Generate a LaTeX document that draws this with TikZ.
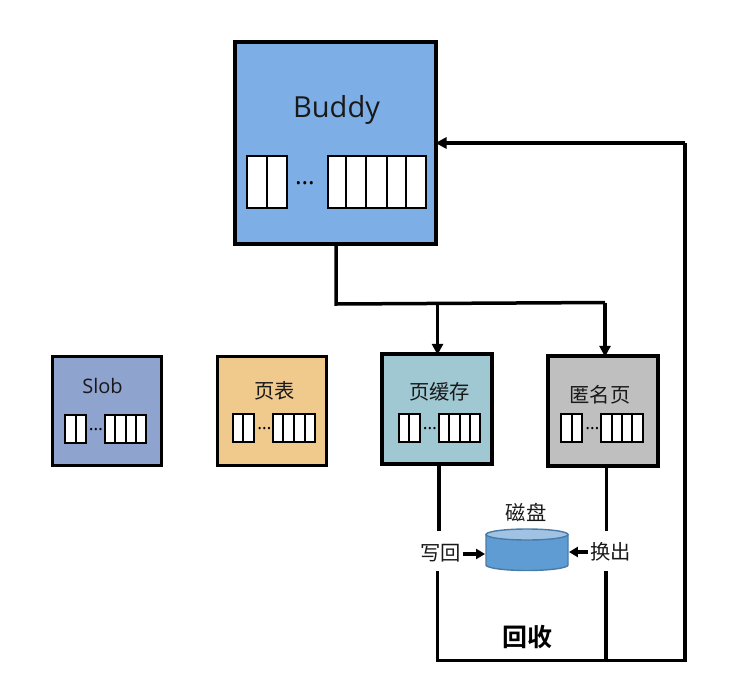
\documentclass[tikz,border=0pt]{standalone}
\usepackage{fontspec}
\setmainfont{Open Sans}
\newfontfamily\cjk{Noto Sans CJK SC}
\newfontfamily\cjkb{Noto Sans CJK SC Bold}
\usetikzlibrary{arrows.meta}
\definecolor{cBuddy}{HTML}{7DAFE6}
\definecolor{cSlob}{HTML}{8FA3CF}
\definecolor{cPT}{HTML}{F0C98D}
\definecolor{cPC}{HTML}{9FC8D2}
\definecolor{cAnon}{HTML}{BFBFBF}
\definecolor{cDisk}{HTML}{5F9CD3}
\definecolor{cDiskTop}{HTML}{A0C3E4}
\definecolor{cDiskLine}{HTML}{4A7BA6}
\tikzset{
  x=1pt,y=-1pt,
  bigbox/.style={draw=black,line width=4pt},
  smallbox/.style={draw=black,line width=2.6pt},
  cell/.style={draw=black,fill=white,line width=1.9pt},
  bigcell/.style={draw=black,fill=white,line width=2pt},
  conn/.style={draw=black,line width=3.5pt},
  tip/.style={conn,-{Triangle[length=11pt,width=11pt]},shorten >=-0.5pt},
  lab/.style={inner sep=0pt,text=black!90,font=\fontsize{20}{24}\selectfont},
  cjklab/.style={inner sep=0pt,text=black!90,font=\cjk\fontsize{20.3}{24}\selectfont},
  anchorbox/.style={inner sep=0pt,minimum width=0pt,minimum height=0pt}
}
\newcommand{\cellrow}[9]{% y1 y2 left-x1 left-div left-x2 right-x1 right-x2 dividers dotsx
  \path[cell] (#3,#1) rectangle (#5,#2);
  \draw[cell] (#4,#1) -- (#4,#2);
  \path[cell] (#6,#1) rectangle (#7,#2);
  \foreach \d in {#8} \draw[cell] (\d,#1) -- (\d,#2);
  \node[inner sep=0pt,anchor=base,font=\fontsize{18}{20}\selectfont] at (#9,{(#1+#2)/2+1}) {…};}
\begin{document}
\begin{tikzpicture}
\useasboundingbox (0,0) rectangle (740,697);
% Buddy
\node[bigbox,fill=cBuddy,anchor=north west,minimum width=201pt,minimum height=202pt,inner sep=0pt,outer sep=0pt] (buddy) at (235,42) {};
\node[inner sep=0pt,font=\fontsize{29}{34}\selectfont,text=black!90] (buddyl) at (336.5,110) {Buddy};
\path[bigcell] (246.5,156) rectangle (287,208);
\draw[bigcell] (267,156) -- (267,208);
\path[bigcell] (327.5,156) rectangle (426,208);
\foreach \d in {346,366,387,406} \draw[bigcell] (\d,156) -- (\d,208);
\node[inner sep=0pt,anchor=base,font=\fontsize{25}{26}\selectfont] (buddyd) at (305,184) {…};
% small boxes
\node[smallbox,fill=cSlob,anchor=north west,minimum width=109pt,minimum height=109pt,inner sep=0pt,outer sep=0pt] (slob) at (52.5,356.5) {};
\node[lab,font=\fontsize{20}{24}\selectfont] (slobl) at (102.5,386) {Slob};
\cellrow{415}{443}{65}{76}{86}{105}{146}{115.3,125.7,136}{96}
\node[smallbox,fill=cPT,anchor=north west,minimum width=109pt,minimum height=109pt,inner sep=0pt,outer sep=0pt] (pt) at (217.5,356.5) {};
\node[cjklab] (ptl) at (274.5,391) {页表};
\cellrow{414}{442}{233}{243.3}{254}{273}{315}{283.3,294,305}{264.5}
\node[bigbox,fill=cPC,anchor=north west,minimum width=110pt,minimum height=109.5pt,inner sep=0pt,outer sep=0pt] (pc) at (382,354.3) {};
\node[cjklab] (pcl) at (439.5,392) {页缓存};
\cellrow{414}{442}{399}{409.3}{420}{439}{480}{449.3,459.7,470}{430}
\node[bigbox,fill=cAnon,anchor=north west,minimum width=110pt,minimum height=109.5pt,inner sep=0pt,outer sep=0pt] (anon) at (548,356.3) {};
\node[cjklab] (anonl) at (600,395) {匿名页};
\cellrow{414}{442}{561}{571.7}{582}{601}{643}{611.7,622.3,632.3}{592.5}
% disk
\node[anchorbox,minimum width=83.5pt,minimum height=42.5pt] (disk) at (527,549.7) {};
\path[fill=cDisk,draw=cDiskLine,line width=1.4pt] (486,534.5) -- (486,565) arc[start angle=180,end angle=0,x radius=41,y radius=5.5] -- (568,534.5) -- cycle;
\path[fill=cDiskTop,draw=cDiskLine,line width=1.4pt] (527,534.5) ellipse[x radius=41,y radius=5.5];
\node[cjklab] (diskl) at (526,512.5) {磁盘};
\node[cjklab] (wb) at (440.5,553) {写回};
\node[cjklab] (so) at (610.5,552) {换出};
\node[inner sep=0pt,text=black,font=\cjkb\fontsize{25}{28}\selectfont] (recl) at (527,637) {回收};
% connectors
\coordinate (busL) at (336,304);
\coordinate (busM) at (437.5,303.5);
\coordinate (busR) at (605,302.5);
\draw[conn] (buddy.south -| busL) -- (busL) -- (busR);
\draw[tip] (busM) -- (busM |- pc.north);
\draw[tip] (busR) -- (busR |- anon.north);
\coordinate (pcGapT) at (439,530.5);
\coordinate (anGapT) at (606.7,530.5);
\coordinate (pcGapB) at (437.5,571);
\coordinate (anGapB) at (606,571);
\coordinate (cornerBL) at (437.5,660.5);
\coordinate (cornerBM) at (606,660.5);
\coordinate (cornerBR) at (685,660.5);
\coordinate (cornerTR) at (685,143);
\coordinate (wbS) at (463,554);
\coordinate (soS) at (588,552);
\draw[conn] (pc.south -| pcGapT) -- (pcGapT);
\draw[conn] (anon.south -| anGapT) -- (anGapT);
\draw[conn,line join=miter] (pcGapB) -- (cornerBL) -- (cornerBR) -- (cornerTR);
\draw[conn] (anGapB) -- (cornerBM);
\draw[tip] (cornerTR) -- (buddy.east |- cornerTR);
\draw[conn,-{Triangle[length=9pt,width=10pt]}] (wbS) -- (disk.west |- wbS);
\draw[conn,-{Triangle[length=9pt,width=10pt]}] (soS) -- (disk.east |- soS);
\end{tikzpicture}
\end{document}
